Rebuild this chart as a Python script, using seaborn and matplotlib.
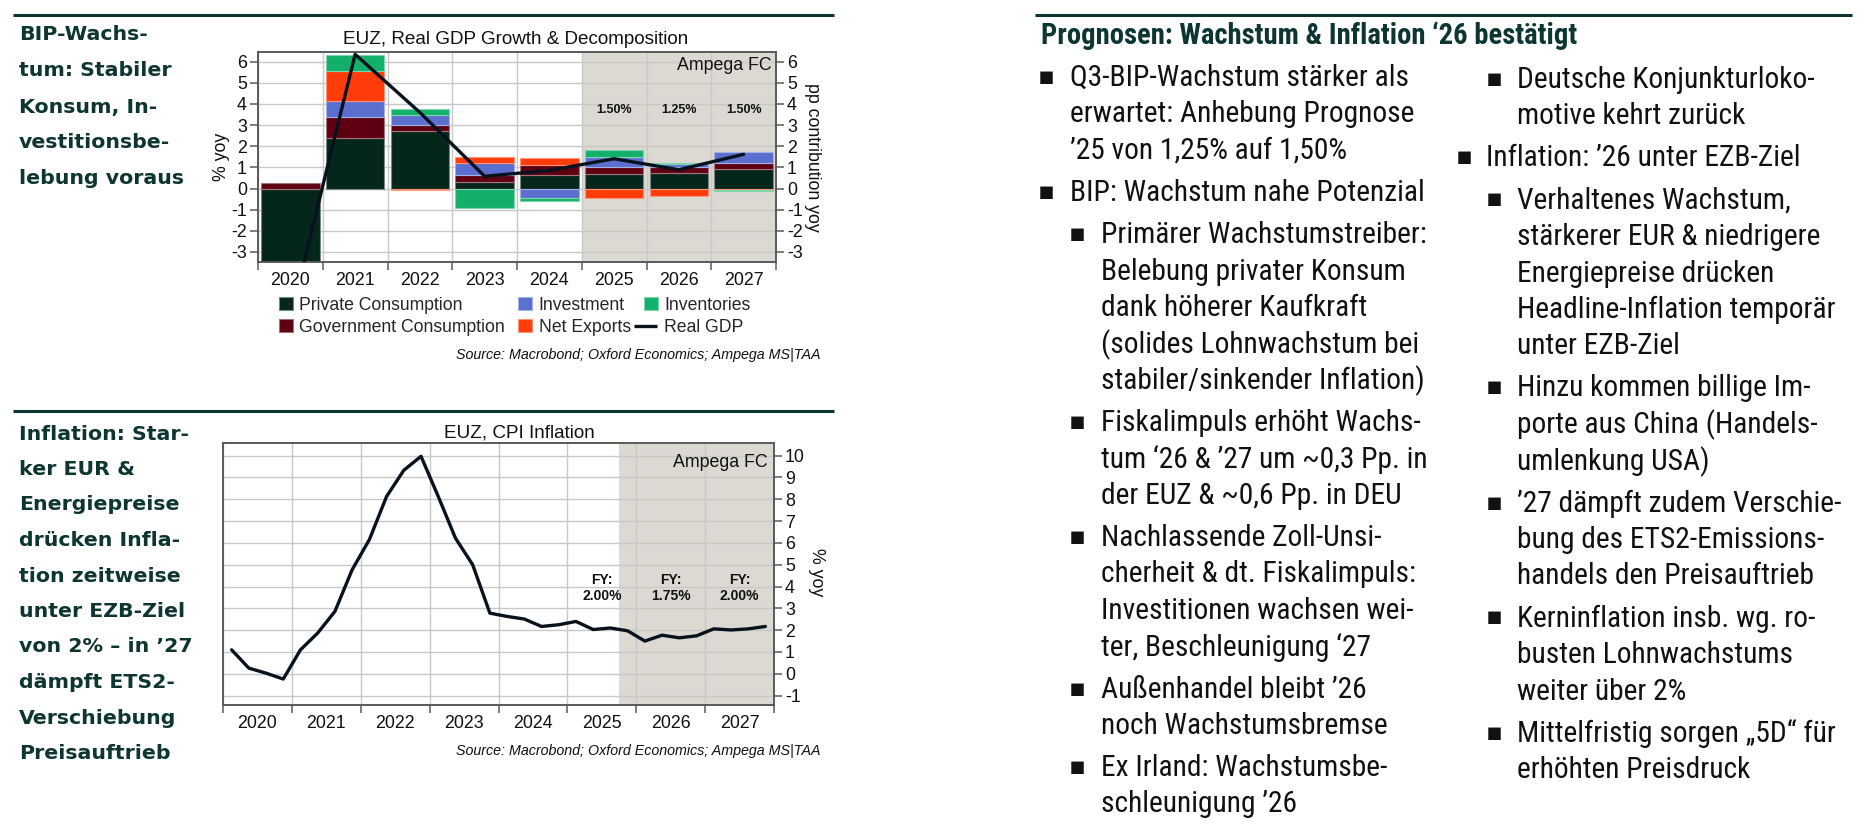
import matplotlib
matplotlib.use("Agg")
import matplotlib.pyplot as plt
import matplotlib.patches as mpatches
import matplotlib.lines as mlines
import matplotlib.colors as mcolors
from matplotlib import font_manager
from matplotlib.legend_handler import HandlerLine2D
import numpy as np
import pandas as pd
import seaborn as sns

# ---------------------------------------------------------------- data
years = ["2020", "2021", "2022", "2023", "2024", "2025", "2026", "2027"]
private_consumption = [-4.30, 2.41, 2.71, 0.30, 0.65, 0.70, 0.73, 0.92]
government_consumption = [0.26, 0.96, 0.30, 0.32, 0.46, 0.31, 0.28, 0.31]
investment = [-1.30, 0.78, 0.46, 0.57, -0.44, 0.50, 0.15, 0.51]
net_exports = [-0.40, 1.40, -0.07, 0.30, 0.32, -0.46, -0.35, -0.05]
inventories = [-0.40, 0.78, 0.31, -0.92, -0.15, 0.32, 0.05, -0.05]
real_gdp = [-6.10, 6.35, 3.60, 0.58, 0.86, 1.41, 0.89, 1.62]
gdp_fc_labels = ["", "", "", "", "", "1.50%", "1.25%", "1.50%"]
gdp_fc_start = "2025"

cpi_quarters = pd.period_range("2020Q1", "2027Q4", freq="Q")
cpi_yoy = [1.10, 0.26, 0.03, -0.24,
           1.10, 1.87, 2.86, 4.77,
           6.15, 8.13, 9.33, 9.97,
           8.13, 6.22, 5.00, 2.78,
           2.63, 2.51, 2.17, 2.25,
           2.40, 2.03, 2.10, 1.97,
           1.50, 1.77, 1.65, 1.74,
           2.06, 2.01, 2.06, 2.17]
cpi_fc_start = "2025Q4"
cpi_fy_years = [2025, 2026, 2027]
cpi_fy_values = ["2.00%", "1.75%", "2.00%"]

source_text = "Source: Macrobond; Oxford Economics; Ampega MS|TAA"

left_heading_1 = ["BIP-Wachs-", "tum: Stabiler", "Konsum, In-", "vestitionsbe-", "lebung voraus"]
left_heading_2 = ["Inflation: Star-", "ker EUR &", "Energiepreise", "drücken Infla-",
                  "tion zeitweise", "unter EZB-Ziel", "von 2% – in ’27", "dämpft ETS2-",
                  "Verschiebung", "Preisauftrieb"]
right_heading = "Prognosen: Wachstum & Inflation ‘26 bestätigt"
# (level, lines)
bullets_left = [
    (1, ["Q3-BIP-Wachstum stärker als", "erwartet: Anhebung Prognose", "’25 von 1,25% auf 1,50%"]),
    (1, ["BIP: Wachstum nahe Potenzial"]),
    (2, ["Primärer Wachstumstreiber:", "Belebung privater Konsum", "dank höherer Kaufkraft",
         "(solides Lohnwachstum bei", "stabiler/sinkender Inflation)"]),
    (2, ["Fiskalimpuls erhöht Wachs-", "tum ‘26 & ’27 um ~0,3 Pp. in", "der EUZ & ~0,6 Pp. in DEU"]),
    (2, ["Nachlassende Zoll-Unsi-", "cherheit & dt. Fiskalimpuls:", "Investitionen wachsen wei-",
         "ter, Beschleunigung ‘27"]),
    (2, ["Außenhandel bleibt ’26", "noch Wachstumsbremse"]),
    (2, ["Ex Irland: Wachstumsbe-", "schleunigung ’26"]),
]
bullets_right = [
    (2, ["Deutsche Konjunkturloko-", "motive kehrt zurück"]),
    (1, ["Inflation: ’26 unter EZB-Ziel"]),
    (2, ["Verhaltenes Wachstum,", "stärkerer EUR & niedrigere", "Energiepreise drücken",
         "Headline-Inflation temporär", "unter EZB-Ziel"]),
    (2, ["Hinzu kommen billige Im-", "porte aus China (Handels-", "umlenkung USA)"]),
    (2, ["’27 dämpft zudem Verschie-", "bung des ETS2-Emissions-", "handels den Preisauftrieb"]),
    (2, ["Kerninflation insb. wg. ro-", "busten Lohnwachstums", "weiter über 2%"]),
    (2, ["Mittelfristig sorgen „5D“ für", "erhöhten Preisdruck"]),
]

# ---------------------------------------------------------------- style
sns.set_theme(style="white")
plt.rcParams["font.family"] = ["Liberation Sans", "DejaVu Sans"]
plt.rcParams["axes.unicode_minus"] = False

C_PRIV = "#05261b"
C_GOV = "#5e0012"
C_INV = "#5b6fcf"
C_NX = "#ff3c0a"
C_INVEN = "#13b06b"
C_LINE = "#08121c"
SHADE = "#dcd8d2"
GRID = "#c8c8c8"
SPINE = "#5a5a5a"
TEAL = "#0d3532"
TXT = "#111111"


def lighten(c, f=0.4):
    r, g, b = mcolors.to_rgb(c)
    return (r + (1 - r) * f, g + (1 - g) * f, b + (1 - b) * f)


# fonts for the text panel (prefer a narrow grotesque)
ttf = font_manager.fontManager.ttflist
names = {f.name for f in ttf}
if "Liberation Sans Narrow" in names:
    narrow_kw = {"family": ["Liberation Sans Narrow", "DejaVu Sans"]}
elif "Roboto Condensed" in names:
    narrow_kw = {"family": ["Roboto Condensed", "DejaVu Sans"]}
elif any(f.name == "DejaVu Sans" and "condensed" in str(f.stretch) for f in ttf):
    narrow_kw = {"family": ["DejaVu Sans"], "stretch": "condensed"}
else:
    narrow_kw = {"family": ["Roboto", "DejaVu Sans"]}

W, H, DPI = 1870, 839, 100
fig = plt.figure(figsize=(W / DPI, H / DPI), dpi=DPI)
fig.patch.set_facecolor("white")
renderer = fig.canvas.get_renderer()


def fx(x):
    return x / W


def fy(y):
    return 1 - y / H


def rect(l, t, r, b):
    return [l / W, 1 - b / H, (r - l) / W, (b - t) / H]


def fit_size(text, target_px, **kw):
    t = fig.text(0, 0, text, fontsize=10, **kw)
    w = t.get_window_extent(renderer).width
    t.remove()
    return 10 * target_px / w


def style_frame(ax):
    for s in ax.spines.values():
        s.set_visible(True)
        s.set_color(SPINE)
        s.set_linewidth(1.4)
    ax.set_axisbelow(True)
    ax.grid(True, which="major", color=GRID, linewidth=1.0)


class LongLineHandler(HandlerLine2D):
    def create_artists(self, legend, orig_handle, xdescent, ydescent, width,
                       height, fontsize, trans):
        y = (height - ydescent) / 2
        ln = mlines.Line2D([-xdescent - 0.55 * fontsize, -xdescent + width - 0.05 * fontsize],
                           [y, y], color=orig_handle.get_color(),
                           linewidth=orig_handle.get_linewidth(),
                           solid_capstyle="butt")
        ln.set_transform(trans)
        return [ln]


TICK_FS = 12.8
TITLE_FS = 13.6
LINE_W = 2.4

# ---------------------------------------------------------------- top chart
df_gdp = pd.DataFrame({
    "year": years,
    "Private Consumption": private_consumption,
    "Government Consumption": government_consumption,
    "Investment": investment,
    "Net Exports": net_exports,
    "Inventories": inventories,
    "Real GDP": real_gdp,
})
df_gdp["pos"] = np.arange(len(df_gdp))
components = [("Private Consumption", C_PRIV), ("Government Consumption", C_GOV),
              ("Investment", C_INV), ("Net Exports", C_NX), ("Inventories", C_INVEN)]

ax1 = fig.add_axes(rect(258, 52, 776, 262))
n = len(years)
ax1.set_xlim(-0.5, n - 0.5)
ax1.set_ylim(-3.475, 6.46)
fc0 = years.index(gdp_fc_start) - 0.5
ax1.axvspan(fc0, n - 0.5, color=SHADE, zorder=0.2, lw=0)

pos_b = np.zeros(n)
neg_b = np.zeros(n)
for name, col in components:
    v = df_gdp[name].to_numpy()
    bottoms = np.where(v >= 0, pos_b, neg_b)
    ax1.bar(df_gdp["pos"], v, bottom=bottoms, width=0.9, color=col,
            edgecolor=lighten(col, 0.45), linewidth=0.8, zorder=2)
    pos_b += np.where(v >= 0, v, 0)
    neg_b += np.where(v < 0, v, 0)

sns.lineplot(data=df_gdp, x="pos", y="Real GDP", ax=ax1, color=C_LINE,
             linewidth=LINE_W, zorder=3, legend=False)

for i, lab in enumerate(gdp_fc_labels):
    if lab:
        ax1.text(i, 3.72, lab, ha="center", va="center", fontsize=9.0,
                 fontweight="bold", color=TXT)
ax1.text(0.992, 0.938, "Ampega FC", transform=ax1.transAxes, ha="right",
         va="center", fontsize=TICK_FS, color=TXT)

style_frame(ax1)
ax1.set_xlabel("")
ax1.set_ylabel("")
ax1.set_yticks(range(-3, 7))
ax1.tick_params(axis="y", left=True, right=True, labelleft=True, labelright=True,
                length=5.5, width=1.1, color=SPINE, labelsize=TICK_FS, pad=2.5,
                labelcolor=TXT)
ax1.set_xticks(np.arange(-0.5, n, 1.0))
ax1.set_xticks(np.arange(n), minor=True)
ax1.set_xticklabels([""] * (n + 1))
ax1.set_xticklabels(years, minor=True)
ax1.tick_params(axis="x", which="major", bottom=True, length=5.5, width=1.1,
                color=SPINE)
ax1.tick_params(axis="x", which="minor", bottom=True, length=0, pad=7.5,
                labelsize=TICK_FS, labelcolor=TXT)

fig.text(fx(516), fy(40), "EUZ, Real GDP Growth & Decomposition", ha="center",
         va="center", fontsize=TITLE_FS, color=TXT)
fig.text(fx(221), fy(157), "% yoy", rotation=90, ha="center", va="center",
         fontsize=TICK_FS, color=TXT)
fig.text(fx(813), fy(157), "pp contribution yoy", rotation=270, ha="center",
         va="center", fontsize=TICK_FS, color=TXT)

handles = []
order = ["Private Consumption", "Government Consumption", "Investment",
         "Net Exports", "Inventories"]
cmap = dict(components)
for name in order:
    handles.append(mpatches.Patch(facecolor=cmap[name],
                                  edgecolor=lighten(cmap[name], 0.45),
                                  linewidth=0.8, label=name))
gdp_handle = mlines.Line2D([], [], color=C_LINE, linewidth=LINE_W, label="Real GDP")
handles.append(gdp_handle)
fig.legend(handles=handles, loc="center left", bbox_to_anchor=(fx(279), fy(316.5)),
           ncol=3, frameon=False, fontsize=12.7, handlelength=0.8,
           handleheight=0.75, handletextpad=0.35, columnspacing=0.75,
           labelspacing=0.28, borderpad=0, borderaxespad=0,
           handler_map={gdp_handle: LongLineHandler()})
fig.text(fx(820), fy(355), source_text, ha="right", va="center",
         fontsize=10.3, style="italic", color=TXT)

# ---------------------------------------------------------------- bottom chart
df_cpi = pd.DataFrame({"quarter": cpi_quarters, "cpi": cpi_yoy})
df_cpi["t"] = df_cpi["quarter"].dt.year + (df_cpi["quarter"].dt.quarter - 0.5) / 4

ax2 = fig.add_axes(rect(223, 443, 774, 705))
y0, y1 = int(years[0]), int(years[-1]) + 1
ax2.set_xlim(y0, y1)
ax2.set_ylim(-1.43, 10.58)
fcp = pd.Period(cpi_fc_start, freq="Q")
ax2.axvspan(fcp.year + (fcp.quarter - 1) / 4, y1, color=SHADE, zorder=0.2, lw=0)
sns.lineplot(data=df_cpi, x="t", y="cpi", ax=ax2, color=C_LINE, linewidth=LINE_W,
             zorder=3, legend=False)
for yr, val in zip(cpi_fy_years, cpi_fy_values):
    ax2.text(yr + 0.5, 3.94, "FY:\n" + val, ha="center", va="center",
             fontsize=10, fontweight="bold", color=TXT, linespacing=1.15)
ax2.text(0.989, 0.924, "Ampega FC", transform=ax2.transAxes, ha="right",
         va="center", fontsize=TICK_FS, color=TXT)

style_frame(ax2)
ax2.set_xlabel("")
ax2.set_ylabel("")
ax2.yaxis.tick_right()
ax2.set_yticks(range(-1, 11))
ax2.tick_params(axis="y", left=False, right=True, labelleft=False, labelright=True,
                length=5.5, width=1.1, color=SPINE, labelsize=TICK_FS, pad=2.5,
                labelcolor=TXT)
ax2.set_xticks(np.arange(y0, y1 + 1))
ax2.set_xticks(np.arange(y0, y1) + 0.5, minor=True)
ax2.set_xticklabels([""] * (y1 - y0 + 1))
ax2.set_xticklabels(years, minor=True)
ax2.tick_params(axis="x", which="major", bottom=True, length=5.5, width=1.1,
                color=SPINE)
ax2.tick_params(axis="x", which="minor", bottom=True, length=0, pad=7.5,
                labelsize=TICK_FS, labelcolor=TXT)

fig.text(fx(519), fy(433), "EUZ, CPI Inflation", ha="center", va="center",
         fontsize=TITLE_FS, color=TXT)
fig.text(fx(817), fy(572), "% yoy", rotation=270, ha="center", va="center",
         fontsize=TICK_FS, color=TXT)
fig.text(fx(820), fy(751), source_text, ha="right", va="center",
         fontsize=10.3, style="italic", color=TXT)

# ---------------------------------------------------------------- rules
for (xa, xb, yy) in [(13, 834, 15), (1035, 1852, 15), (13, 834, 411)]:
    fig.add_artist(mlines.Line2D([fx(xa), fx(xb)], [fy(yy), fy(yy)],
                                 transform=fig.transFigure, color=TEAL,
                                 linewidth=2.2, solid_capstyle="butt"))

# ---------------------------------------------------------------- left headings
head_kw = {"family": ["DejaVu Sans"], "fontweight": "bold"}
hs = fit_size("Energiepreise", 160, **head_kw)
for i, line in enumerate(left_heading_1):
    fig.text(fx(19), fy(35 + 36 * i), line, ha="left", va="center",
             fontsize=hs, color=TEAL, **head_kw)
for i, line in enumerate(left_heading_2):
    fig.text(fx(19), fy(434 + 35.5 * i), line, ha="left", va="center",
             fontsize=hs, color=TEAL, **head_kw)

# ---------------------------------------------------------------- right text panel
rh = fit_size(right_heading, 533, fontweight="bold", **narrow_kw)
fig.text(fx(1041), fy(36), right_heading, ha="left", va="center", fontsize=rh,
         fontweight="bold", color=TEAL, **narrow_kw)

bs = fit_size("Q3-BIP-Wachstum stärker als", 338, **narrow_kw)
LINE_STEP, PARA_STEP = 36.5, 42.0


def draw_bullets(paras, y_start, x_bullet, x_text):
    y = y_start
    for level, lines in paras:
        fig.text(fx(x_bullet[level]), fy(y - 1), "▪", ha="center", va="center",
                 fontsize=bs * 0.85, color=TXT, family=["DejaVu Sans"])
        for j, line in enumerate(lines):
            fig.text(fx(x_text[level]), fy(y), line, ha="left", va="center",
                     fontsize=bs, color=TXT, **narrow_kw)
            if j < len(lines) - 1:
                y += LINE_STEP
        y += PARA_STEP


draw_bullets(bullets_left, 78, {1: 1046, 2: 1077}, {1: 1070, 2: 1101})
draw_bullets(bullets_right, 80, {1: 1464, 2: 1494}, {1: 1486, 2: 1517})

fig.savefig("out.png", dpi=DPI, facecolor="white")
